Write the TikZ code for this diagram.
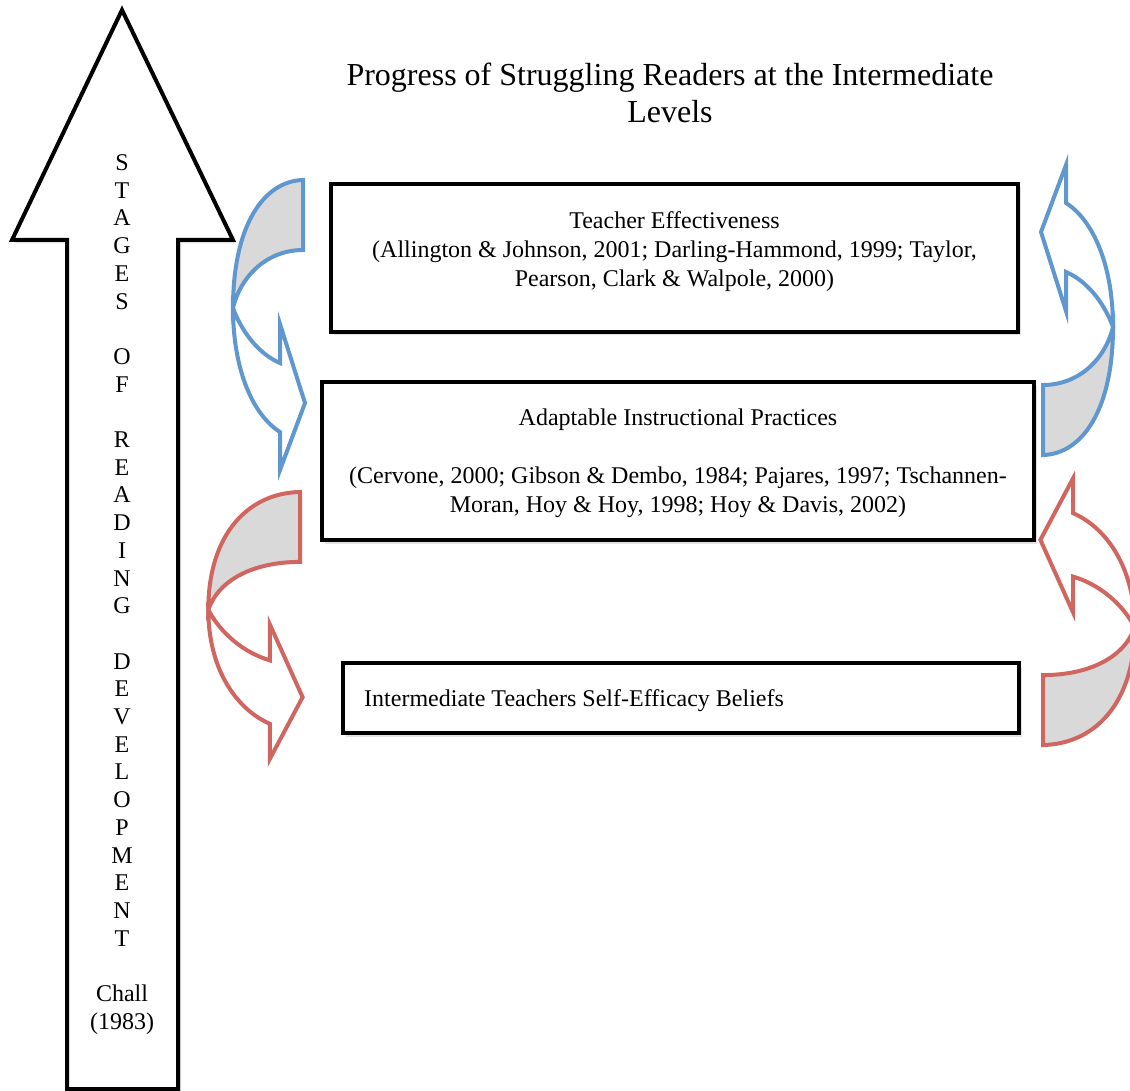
\documentclass[tikz,border=0pt]{standalone}
\usepackage{fontspec}
\setmainfont{Liberation Serif}
\usetikzlibrary{positioning,shadows}
\definecolor{loopblue}{HTML}{5F97CE}
\definecolor{loopred}{HTML}{D0665F}
\definecolor{loopshade}{HTML}{D9D9D9}
\tikzset{
  framebox/.style={
    draw=black,
    fill=white,
    line width=4pt,
    drop shadow={shadow xshift=3pt, shadow yshift=-3.5pt, opacity=0.22}
  },
  boxtext/.style={
    align=center,
    inner sep=0pt,
    font=\fontsize{24}{29}\selectfont
  },
  titletext/.style={
    align=center,
    inner sep=0pt,
    font=\fontsize{32}{37}\selectfont
  },
  stagearrow/.style={
    draw=black,
    fill=white,
    line width=4pt,
    drop shadow={shadow xshift=3pt, shadow yshift=-3.5pt, opacity=0.22}
  },
  pics/loopturn/.style 2 args={code={
    \filldraw[fill=loopshade, draw=#2, line width=4pt]
      (0,0) -- (0,#1) .. controls (-35,#1) and (-62,95) .. (-70,128)
      .. controls (-70,45) and (-39,1) .. (0,0) -- cycle;
    \filldraw[fill=white, draw=#2, line width=4pt]
      (-70,128) .. controls (-60,155) and (-42,175) .. (-23,183)
      -- (-23,144) -- (2,223) -- (-23,290) -- (-23,252)
      .. controls (-50,235) and (-70,190) .. (-70,128) -- cycle;
  }}
}

\begin{document}
\begin{tikzpicture}[x=1pt, y=-1pt]
  \useasboundingbox (0,0) rectangle (1130,1091);
  \draw[stagearrow] (67,1089) -- (67,240) -- (12,240) -- (122,10) -- (233,240) -- (178,240) -- (178,1089) -- cycle;
  \node[boxtext, font=\fontsize{24}{27.7}\selectfont] (stages) at (122,594.5)
    {S\\T\\A\\G\\E\\S\\[27.7pt]O\\F\\[27.7pt]R\\E\\A\\D\\I\\N\\G\\[27.7pt]D\\E\\V\\E\\L\\O\\P\\M\\E\\N\\T\\[27.7pt]Chall\\(1983)};
  \node[titletext] (title) at (670,93) {Progress of Struggling Readers at the Intermediate\\Levels};
  \pic at (303,180) {loopturn={70}{loopblue}};
  \pic[rotate=180] at (1043,455) {loopturn={70}{loopblue}};
  \pic[xscale=1.31, yscale=0.92] at (300,492) {loopturn={76}{loopred}};
  \pic[rotate=180, xscale=1.31, yscale=0.92] at (1043,745) {loopturn={76}{loopred}};
  \node[framebox, minimum width=687pt, minimum height=148pt] (effect) at (674.5,258) {};
  \node[boxtext] (effecttext) at ([yshift=6.5pt]effect.center)
    {Teacher Effectiveness\\(Allington \& Johnson, 2001; Darling-Hammond, 1999; Taylor,\\Pearson, Clark \& Walpole, 2000)};
  \node[framebox, minimum width=712pt, minimum height=158pt] (practice) at (678,461) {};
  \node[boxtext] (practicetext) at ([yshift=-2.5pt]practice.center)
    {Adaptable Instructional Practices\\[28.5pt](Cervone, 2000; Gibson \& Dembo, 1984; Pajares, 1997; Tschannen-\\Moran, Hoy \& Hoy, 1998; Hoy \& Davis, 2002)};
  \node[framebox, minimum width=676pt, minimum height=70pt] (belief) at (681,698) {};
  \node[boxtext, anchor=west] (belieftext) at ([xshift=23pt, yshift=-3pt]belief.west) {Intermediate Teachers Self-Efficacy Beliefs};
\end{tikzpicture}
\end{document}
